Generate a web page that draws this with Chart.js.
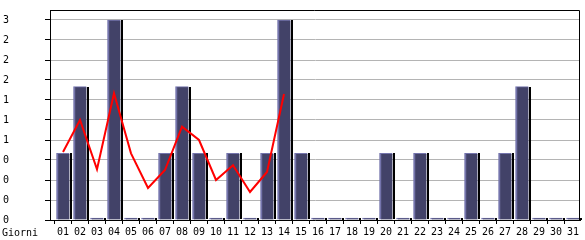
<!DOCTYPE html>
<html>
<head>
<meta charset="utf-8">
<script src="https://cdn.jsdelivr.net/npm/chart.js@4"></script>
<style>
  html, body { margin: 0; padding: 0; background: #fff; }
  #wrap { width: 585px; height: 240px; }
</style>
</head>
<body>
<div id="wrap"><canvas id="myChart" width="585" height="240"></canvas></div>
<script>
  const days = ['01','02','03','04','05','06','07','08','09','10','11','12','13','14','15','16',
                '17','18','19','20','21','22','23','24','25','26','27','28','29','30','31'];
  const counts = [1,2,0,3,0,0,1,2,1,0,1,0,1,3,1,0,0,0,0,1,0,1,0,0,1,0,1,2,0,0,0];
  // red line only covers the first 14 days
  const trend = [1.02,1.5,0.76,1.9,1.0,0.48,0.75,1.4,1.2,0.6,0.82,0.42,0.72,1.89];
  const yTickValues = [0,0.3,0.6,0.9,1.2,1.5,1.8,2.1,2.4,2.7,3.0];
  const yTickLabels = ['0','0','0','0','1','1','1','2','2','2','3'];
  const xTitle = 'Giorni';

  const FONT = { family: 'DejaVu Sans Mono', size: 10 };

  // frame, bar shadows and the axis title
  const decor = {
    id: 'decor',
    afterDatasetDraw(chart, args) {
      if (args.meta.type !== 'bar') return;
      const ctx = chart.ctx;
      ctx.save();
      ctx.fillStyle = '#000';
      args.meta.data.forEach(bar => {
        const p = bar.getProps(['x', 'y', 'base', 'width'], true);
        const top = Math.min(p.y, p.base - 2);
        ctx.fillRect(Math.round(p.x + p.width / 2), Math.round(top), 2, Math.round(p.base - top));
      });
      ctx.restore();
    },
    afterDraw(chart) {
      const ctx = chart.ctx;
      const a = chart.chartArea;
      ctx.save();
      ctx.strokeStyle = '#000';
      ctx.lineWidth = 1;
      ctx.beginPath();
      ctx.moveTo(a.left, a.top + 0.5);
      ctx.lineTo(a.right - 0.5, a.top + 0.5);
      ctx.lineTo(a.right - 0.5, a.bottom);
      ctx.stroke();
      ctx.fillStyle = '#000';
      ctx.font = FONT.size + 'px ' + FONT.family;
      ctx.textBaseline = 'alphabetic';
      ctx.textAlign = 'left';
      ctx.fillText(xTitle, 2, 236);
      ctx.restore();
    }
  };

  const ctx = document.getElementById('myChart').getContext('2d');
  const myChart = new Chart(ctx, {
    data: {
      datasets: [
        {
          type: 'line',
          data: trend.map((v, i) => ({ x: i + 1, y: v })),
          borderColor: '#ff0000',
          borderWidth: 2,
          pointRadius: 0,
          tension: 0,
          order: 0
        },
        {
          type: 'bar',
          data: counts.map((v, i) => ({ x: i + 1, y: v })),
          backgroundColor: '#424268',
          borderColor: '#7474ac',
          borderWidth: { left: 2, top: 1, right: 0, bottom: 0 },
          borderSkipped: false,
          barThickness: 13,
          minBarLength: 2,
          order: 1
        }
      ]
    },
    plugins: [decor],
    options: {
      responsive: false,
      animation: false,
      layout: { padding: { top: 10, right: 5, left: 3, bottom: 0 } },
      plugins: {
        legend: { display: false },
        tooltip: { enabled: false }
      },
      scales: {
        x: {
          type: 'linear',
          offset: false,
          min: 0.235,
          max: 31.41,
          afterBuildTicks: scale => { scale.ticks = days.map((d, i) => ({ value: i + 1 })); },
          afterFit: scale => { scale.height = 20; },
          ticks: {
            autoSkip: false,
            maxRotation: 0,
            padding: 2,
            color: '#000',
            font: FONT,
            callback: v => days[v - 1]
          },
          grid: { drawOnChartArea: false, tickLength: 4, tickColor: '#000' },
          border: { color: '#000', width: 1 }
        },
        y: {
          min: 0,
          max: 3.15,
          afterBuildTicks: scale => { scale.ticks = yTickValues.map(v => ({ value: v })); },
          afterFit: scale => { scale.width = 47; },
          ticks: {
            autoSkip: false,
            crossAlign: 'far',
            padding: 2,
            color: '#000',
            font: FONT,
            callback: (v, i) => yTickLabels[i]
          },
          grid: { color: '#b4b4b4', tickLength: 5, tickColor: '#000' },
          border: { color: '#000', width: 1 }
        }
      }
    }
  });
</script>
</body>
</html>
